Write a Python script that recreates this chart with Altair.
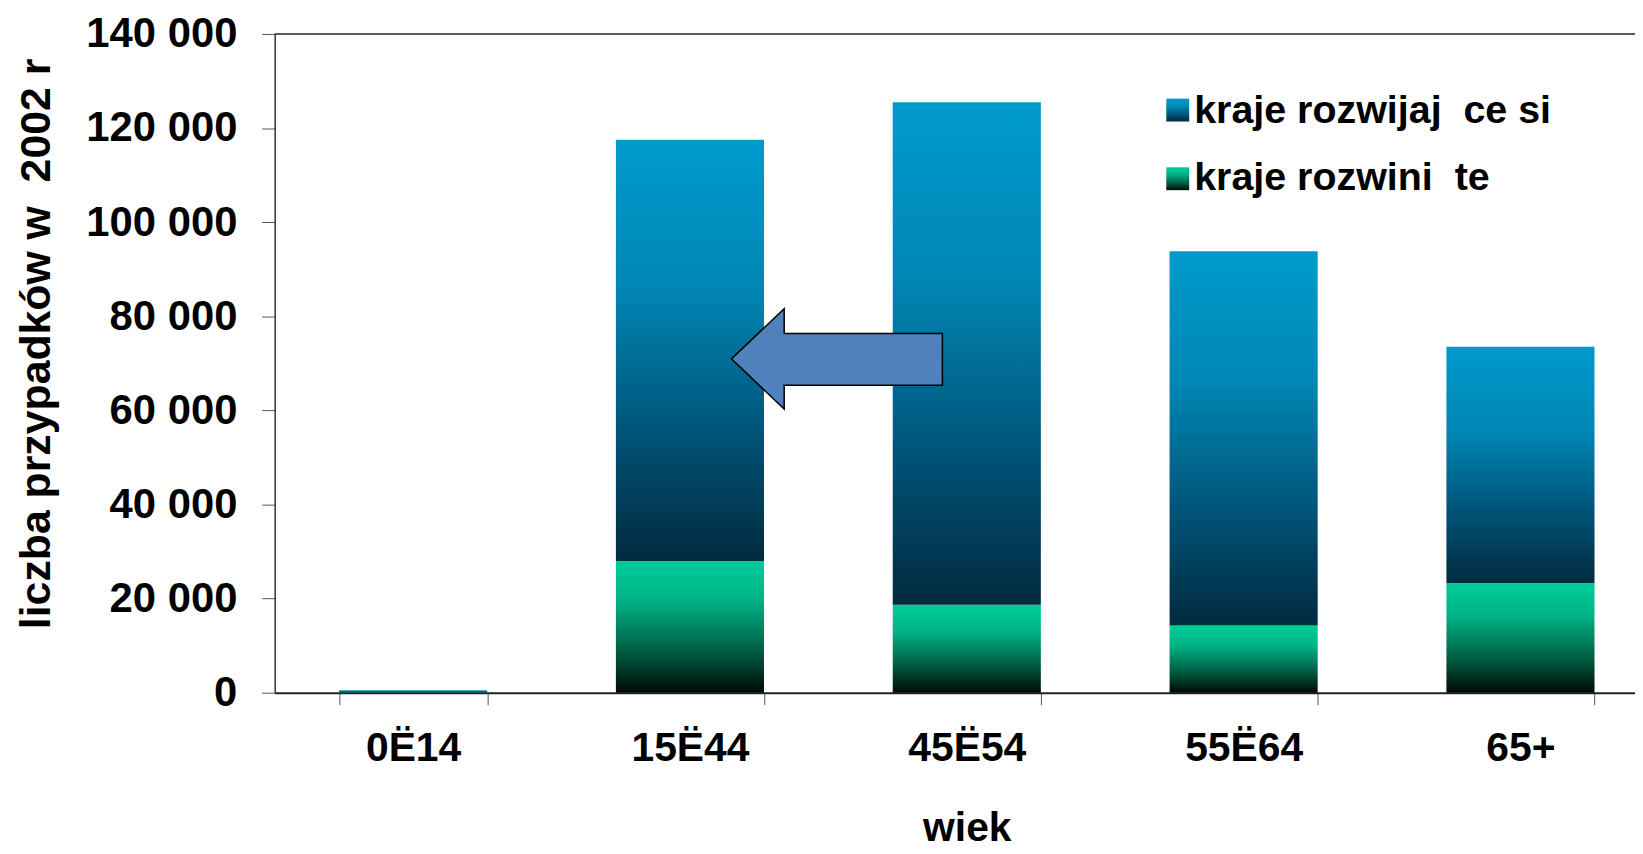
import altair as alt
import pandas as pd

categories = ["0Ë14", "15Ë44", "45Ë54", "55Ë64", "65+"]
developing = [500, 89500, 106800, 79500, 50200]
developed = [50, 28000, 18700, 14300, 23300]
series_names = ["kraje rozwijaj\u00a0\u00a0ce si", "kraje rozwini\u00a0\u00a0te"]
y_ticks = [0, 20000, 40000, 60000, 80000, 100000, 120000, 140000]
x_title = "wiek"
y_title = "liczba przypadków w\u00a0\u00a02002 r"

df = pd.DataFrame({"wiek": categories, "developing": developing, "developed": developed})
df["total"] = df["developing"] + df["developed"]
df["top"] = y_ticks[-1]

FONT = "Liberation Sans"

blue_grad = alt.Gradient(
    gradient="linear",
    stops=[
        alt.GradientStop(offset=0, color="#009ACD"),
        alt.GradientStop(offset=0.35, color="#0087B5"),
        alt.GradientStop(offset=0.7, color="#005377"),
        alt.GradientStop(offset=1, color="#012A3E"),
    ],
    x1=0, x2=0, y1=0, y2=1,
)
green_grad = alt.Gradient(
    gradient="linear",
    stops=[
        alt.GradientStop(offset=0, color="#00CC99"),
        alt.GradientStop(offset=0.3, color="#00B386"),
        alt.GradientStop(offset=0.7, color="#005A40"),
        alt.GradientStop(offset=1, color="#000A05"),
    ],
    x1=0, x2=0, y1=0, y2=1,
)

xscale = alt.Scale(domain=categories, range=[0, 1391], paddingInner=0.465, paddingOuter=0.2325)
yscale = alt.Scale(domain=[0, 140000], nice=False, zero=True)

x_axis = alt.Axis(
    title=x_title, tickBand="extent", labelAngle=0, tickSize=12, labelPadding=24,
    titlePadding=41, domainColor="#222222", domainWidth=2, tickColor="#555555",
)
y_axis = alt.Axis(
    title=y_title, values=y_ticks,
    labelExpr="replace(format(datum.value, ','), ',', ' ')",
    labelFontSize=42, titleFontSize=43,
    tickSize=13, labelPadding=25,
    titleX=-226, titleY=311, titleAngle=-90, titleAlign="center", titleBaseline="alphabetic",
    domainColor="#333333", domainWidth=1.5, tickColor="#555555",
)

X = alt.X("wiek:N", scale=xscale, axis=x_axis)

green = alt.Chart(df).mark_bar(fill=green_grad).encode(
    x=X,
    y=alt.Y("developed:Q", scale=yscale, axis=y_axis, stack=None),
)
blue = alt.Chart(df).mark_bar(fill=blue_grad).encode(
    x=X,
    y=alt.Y("total:Q", scale=yscale, axis=y_axis, stack=None),
    y2="developed:Q",
)

top_rule = alt.Chart(df).transform_filter("datum.wiek == '0Ë14'").mark_rule(
    color="#222222", strokeWidth=1.5
).encode(y=alt.Y("top:Q", scale=yscale, axis=y_axis))

one = pd.DataFrame({"k": [0]})
leg_blue = alt.Chart(one).mark_rect(fill=blue_grad).encode(
    x=alt.value(896), x2=alt.value(919), y=alt.value(65), y2=alt.value(88)
)
leg_green = alt.Chart(one).mark_rect(fill=green_grad).encode(
    x=alt.value(896), x2=alt.value(919), y=alt.value(134), y2=alt.value(157)
)
leg_t1 = alt.Chart(one).mark_text(
    text=series_names[0], font=FONT, fontSize=39.6, fontWeight="bold", color="black",
    align="left", baseline="middle",
).encode(x=alt.value(924), y=alt.value(77))
leg_t2 = alt.Chart(one).mark_text(
    text=series_names[1], font=FONT, fontSize=39.6, fontWeight="bold", color="black",
    align="left", baseline="middle",
).encode(x=alt.value(924), y=alt.value(145))

arrow_path = "M -1 0 L -0.5 -0.476 L -0.5 -0.241 L 1 -0.241 L 1 0.25 L -0.5 0.25 L -0.5 0.476 Z"
arrow = alt.Chart(one).mark_point(
    shape=arrow_path, filled=True, fill="#4F81BD", stroke="black", strokeWidth=1.5,
    size=44944, opacity=1,
).encode(x=alt.value(565), y=alt.value(326.5))

chart = alt.layer(green, blue, top_rule, leg_blue, leg_green, leg_t1, leg_t2, arrow).properties(
    width=1367, height=662,
    autosize=alt.AutoSizeParams(type="none"),
    padding={"left": 268, "top": 24, "right": 0, "bottom": 160},
    background="white",
).configure_axis(
    labelFont=FONT, titleFont=FONT, labelFontSize=41, titleFontSize=41,
    labelFontWeight="bold", titleFontWeight="bold", labelColor="black", titleColor="black",
    grid=False,
).configure_view(stroke=None)

chart.save("out.html", embed_options={"renderer": "svg", "actions": False})
